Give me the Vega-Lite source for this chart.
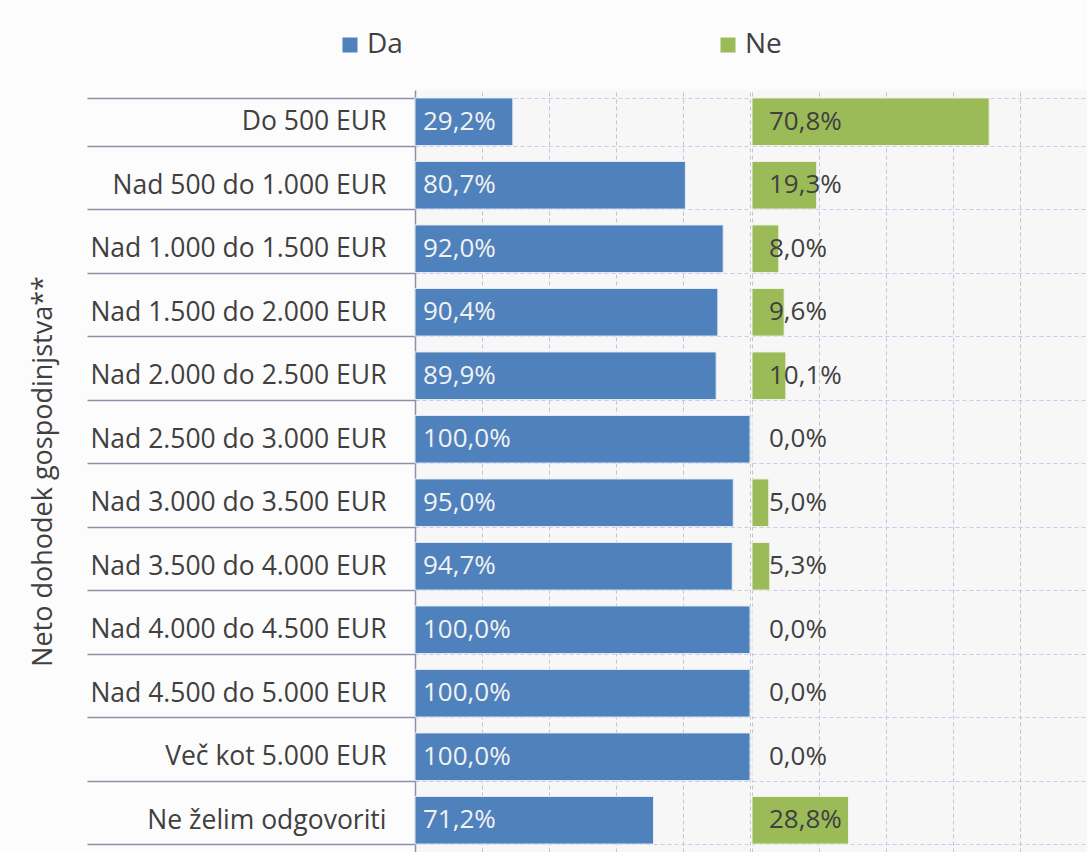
{
  "$schema": "https://vega.github.io/schema/vega-lite/v6.json",
  "background": "#fcfcfc",
  "padding": {"left": 29, "top": 31, "right": 0, "bottom": 0},
  "config": {
    "locale": {"number": {"decimal": ",", "thousands": ".", "grouping": [3], "currency": ["", " €"]}},
    "font": "Open Sans",
    "view": {"stroke": null, "fill": "#f7f7f7"},
    "concat": {"spacing": 0}
  },
  "data": {
    "values": [
      {"kategorija": "Do 500 EUR", "odgovor": "Da", "delez": 0.292},
      {"kategorija": "Do 500 EUR", "odgovor": "Ne", "delez": 0.708},
      {"kategorija": "Nad 500 do 1.000 EUR", "odgovor": "Da", "delez": 0.807},
      {"kategorija": "Nad 500 do 1.000 EUR", "odgovor": "Ne", "delez": 0.193},
      {"kategorija": "Nad 1.000 do 1.500 EUR", "odgovor": "Da", "delez": 0.92},
      {"kategorija": "Nad 1.000 do 1.500 EUR", "odgovor": "Ne", "delez": 0.08},
      {"kategorija": "Nad 1.500 do 2.000 EUR", "odgovor": "Da", "delez": 0.904},
      {"kategorija": "Nad 1.500 do 2.000 EUR", "odgovor": "Ne", "delez": 0.096},
      {"kategorija": "Nad 2.000 do 2.500 EUR", "odgovor": "Da", "delez": 0.899},
      {"kategorija": "Nad 2.000 do 2.500 EUR", "odgovor": "Ne", "delez": 0.101},
      {"kategorija": "Nad 2.500 do 3.000 EUR", "odgovor": "Da", "delez": 1.0},
      {"kategorija": "Nad 2.500 do 3.000 EUR", "odgovor": "Ne", "delez": 0.0},
      {"kategorija": "Nad 3.000 do 3.500 EUR", "odgovor": "Da", "delez": 0.95},
      {"kategorija": "Nad 3.000 do 3.500 EUR", "odgovor": "Ne", "delez": 0.05},
      {"kategorija": "Nad 3.500 do 4.000 EUR", "odgovor": "Da", "delez": 0.947},
      {"kategorija": "Nad 3.500 do 4.000 EUR", "odgovor": "Ne", "delez": 0.053},
      {"kategorija": "Nad 4.000 do 4.500 EUR", "odgovor": "Da", "delez": 1.0},
      {"kategorija": "Nad 4.000 do 4.500 EUR", "odgovor": "Ne", "delez": 0.0},
      {"kategorija": "Nad 4.500 do 5.000 EUR", "odgovor": "Da", "delez": 1.0},
      {"kategorija": "Nad 4.500 do 5.000 EUR", "odgovor": "Ne", "delez": 0.0},
      {"kategorija": "Več kot 5.000 EUR", "odgovor": "Da", "delez": 1.0},
      {"kategorija": "Več kot 5.000 EUR", "odgovor": "Ne", "delez": 0.0},
      {"kategorija": "Ne želim odgovoriti", "odgovor": "Da", "delez": 0.712},
      {"kategorija": "Ne želim odgovoriti", "odgovor": "Ne", "delez": 0.288}
    ]
  },
  "hconcat": [
    {
      "width": 335,
      "height": 762,
      "transform": [{"filter": "datum.odgovor === 'Da'"}],
      "encoding": {
        "y": {
          "field": "kategorija",
          "type": "nominal",
          "sort": null,
          "scale": {"paddingInner": 0.25, "paddingOuter": 0.125},
          "axis": {
            "title": "Neto dohodek gospodinjstva**",
            "titleFontSize": 27,
            "titleFontWeight": "normal",
            "titleColor": "#404040",
            "titlePadding": 158,
            "labelFontSize": 26.5,
            "labelColor": "#404040",
            "labelLimit": 500,
            "labelPadding": -299,
            "tickBand": "extent",
            "tickSize": 328,
            "tickColor": "#8f8fa8",
            "tickWidth": 1.5,
            "domainColor": "#8f8fa8",
            "domainWidth": 1.5,
            "grid": true,
            "gridColor": "#c9c9f2",
            "gridDash": [4, 3],
            "gridWidth": 1
          }
        }
      },
      "layer": [
        {
          "mark": {"type": "bar", "stroke": "#e6ecf4", "strokeWidth": 1},
          "encoding": {
            "x": {
              "field": "delez",
              "type": "quantitative",
              "scale": {"domain": [0, 1], "nice": false},
              "axis": {"title": null, "labels": false, "ticks": false, "domain": false, "grid": true, "gridColor": "#c4c4cc", "gridDash": [4, 3], "values": [0, 0.2, 0.4, 0.6, 0.8, 1]}
            },
            "color": {
              "field": "odgovor",
              "type": "nominal",
              "scale": {"domain": ["Da", "Ne"], "range": ["#4f81bd", "#9bbb59"]},
              "legend": {
                "title": null,
                "orient": "none",
                "legendX": -79,
                "legendY": -59,
                "direction": "horizontal",
                "symbolType": "square",
                "symbolSize": 225,
                "symbolStrokeWidth": 0,
                "labelFontSize": 28,
                "labelColor": "#404040",
                "labelOffset": 3,
                "columnPadding": 311
              }
            }
          }
        },
        {
          "mark": {"type": "text", "align": "left", "baseline": "middle", "dx": 8, "fontSize": 26, "color": "#f2f2f2"},
          "encoding": {
            "x": {"datum": 0, "type": "quantitative"},
            "text": {"field": "delez", "type": "quantitative", "format": ".1%"}
          }
        }
      ]
    },
    {
      "width": 335,
      "height": 762,
      "transform": [{"filter": "datum.odgovor === 'Ne'"}],
      "encoding": {
        "y": {
          "field": "kategorija",
          "type": "nominal",
          "sort": null,
          "scale": {"paddingInner": 0.25, "paddingOuter": 0.125},
          "axis": {
            "title": null,
            "labels": false,
            "ticks": false,
            "domain": false,
            "tickBand": "extent",
            "grid": true,
            "gridColor": "#c9c9f2",
            "gridDash": [4, 3],
            "gridWidth": 1
          }
        }
      },
      "layer": [
        {
          "mark": {"type": "bar", "stroke": "#eef3e6", "strokeWidth": 1},
          "encoding": {
            "x": {
              "field": "delez",
              "type": "quantitative",
              "scale": {"domain": [0, 1], "nice": false},
              "axis": {"title": null, "labels": false, "ticks": false, "domain": false, "grid": true, "gridColor": "#c4c4cc", "gridDash": [4, 3], "values": [0, 0.2, 0.4, 0.6, 0.8, 1]}
            },
            "color": {
              "field": "odgovor",
              "type": "nominal",
              "scale": {"domain": ["Da", "Ne"], "range": ["#4f81bd", "#9bbb59"]},
              "legend": null
            }
          }
        },
        {
          "mark": {"type": "text", "align": "left", "baseline": "middle", "dx": 17, "fontSize": 26, "color": "#404040"},
          "encoding": {
            "x": {"datum": 0, "type": "quantitative"},
            "text": {"field": "delez", "type": "quantitative", "format": ".1%"}
          }
        }
      ]
    }
  ]
}
